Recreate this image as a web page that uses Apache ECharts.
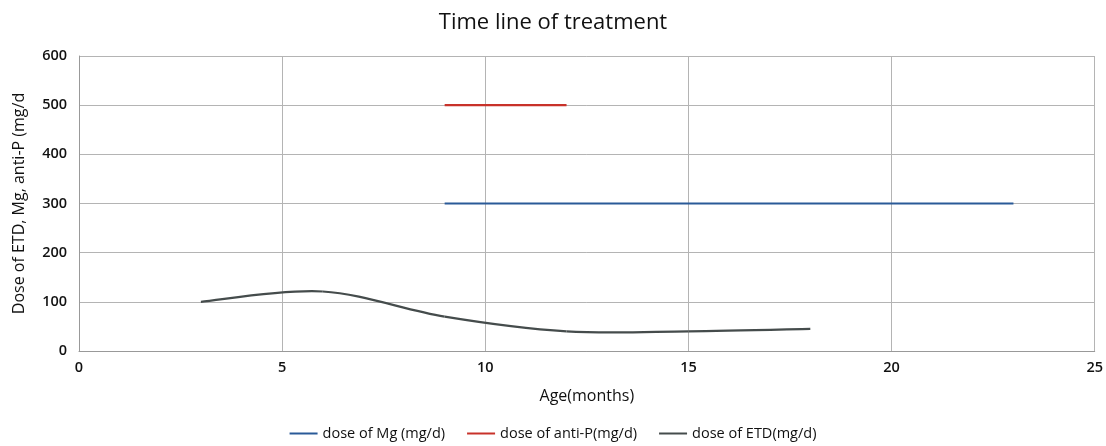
<!DOCTYPE html>
<html><head><meta charset="utf-8">
<script src="https://cdn.jsdelivr.net/npm/echarts@6/dist/echarts.min.js"></script>
<style>html,body{margin:0;padding:0;background:#fff}#c{width:1106px;height:446px}</style>
</head><body><div id="c"></div>
<script>
const xTicks = [0, 5, 10, 15, 20, 25];
const yTicks = [0, 100, 200, 300, 400, 500, 600];
const mgAge = [9, 23];
const mgDose = [300, 300];
const antiPAge = [9, 12];
const antiPDose = [500, 500];
const etdAge = [3, 6, 9, 12, 15, 18];
const etdDose = [100, 121, 70, 40, 40, 45];
const seriesNames = ['dose of Mg (mg/d)', 'dose of anti-P(mg/d)', 'dose of ETD(mg/d)'];
const colors = ['#2a5a98', '#c8322a', '#454c4c'];

const zip = (a, b) => a.map((v, i) => [v, b[i]]);
const font = 'Open Sans, Lato, sans-serif';
const chart = echarts.init(document.getElementById('c'));

// Smoothed (Excel-like, Catmull-Rom 1/6) curve drawn through the library's coordinate system
function renderSmooth(params, api) {
  if (params.dataIndex !== 0) return null;
  const pts = etdAge.map((x, i) => api.coord([x, etdDose[i]]));
  const n = pts.length;
  const children = [];
  for (let i = 0; i < n - 1; i++) {
    const p0 = pts[i], p1 = pts[i + 1];
    const pm = pts[i - 1] || p0;
    const pn = pts[i + 2] || p1;
    const c1 = [p0[0] + (p1[0] - pm[0]) / 6, p0[1] + (p1[1] - pm[1]) / 6];
    const c2 = [p1[0] - (pn[0] - p0[0]) / 6, p1[1] - (pn[1] - p0[1]) / 6];
    children.push({
      type: 'bezierCurve',
      shape: { x1: p0[0], y1: p0[1], cpx1: c1[0], cpy1: c1[1], cpx2: c2[0], cpy2: c2[1], x2: p1[0], y2: p1[1] },
      style: { stroke: colors[2], lineWidth: 2.2, fill: null }
    });
  }
  return { type: 'group', children };
}

chart.setOption({
  animation: false,
  title: { text: 'Time line of treatment', left: 'center', top: 7,
    textStyle: { fontFamily: font, fontSize: 22, fontWeight: 'normal', color: '#111' } },
  grid: { left: 79, right: 10, top: 56, bottom: 95, containLabel: false },
  legend: { bottom: 0, left: 'center', itemGap: 22, itemWidth: 28, itemHeight: 2, icon: 'rect',
    textStyle: { fontFamily: font, fontSize: 14.5, color: '#111' },
    data: seriesNames },
  xAxis: { type: 'value', min: xTicks[0], max: xTicks[xTicks.length - 1], interval: 5,
    name: 'Age(months)', nameLocation: 'middle', nameGap: 37,
    nameTextStyle: { fontFamily: font, fontSize: 16, color: '#111' },
    axisLine: { lineStyle: { color: '#999', width: 1 } }, axisTick: { show: false },
    axisLabel: { fontFamily: font, fontSize: 14.5, fontWeight: 600, color: '#111', margin: 9 },
    splitLine: { show: true, lineStyle: { color: '#b4b4b4' } } },
  yAxis: { type: 'value', min: yTicks[0], max: yTicks[yTicks.length - 1], interval: 100,
    name: 'Dose of ETD, Mg, anti-P (mg/d', nameLocation: 'middle', nameGap: 52, nameRotate: 90,
    nameTextStyle: { fontFamily: font, fontSize: 16, color: '#111' },
    axisLine: { show: true, lineStyle: { color: '#999', width: 1 } }, axisTick: { show: false },
    axisLabel: { fontFamily: font, fontSize: 14.5, fontWeight: 600, color: '#111', margin: 12 },
    splitLine: { show: true, lineStyle: { color: '#b4b4b4' } } },
  series: [
    { name: seriesNames[0], type: 'line', data: zip(mgAge, mgDose), showSymbol: false, symbol: 'none',
      lineStyle: { color: colors[0], width: 2.2 }, itemStyle: { color: colors[0] } },
    { name: seriesNames[1], type: 'line', data: zip(antiPAge, antiPDose), showSymbol: false, symbol: 'none',
      lineStyle: { color: colors[1], width: 2.2 }, itemStyle: { color: colors[1] } },
    { name: seriesNames[2], type: 'custom', data: zip(etdAge, etdDose), renderItem: renderSmooth,
      itemStyle: { color: colors[2] } }
  ]
});
</script></body></html>
